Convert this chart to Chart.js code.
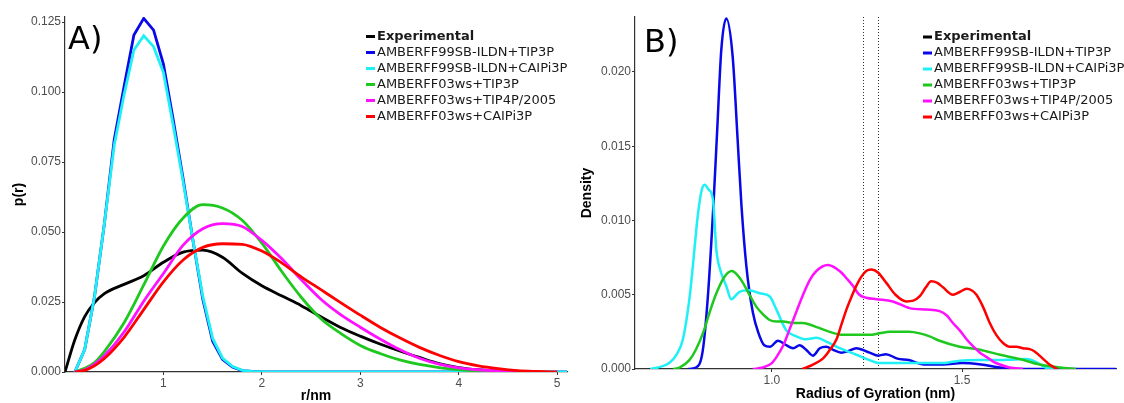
<!DOCTYPE html>
<html>
<head>
<meta charset="utf-8">
<script src="https://cdn.jsdelivr.net/npm/chart.js@4/dist/chart.umd.min.js"></script>
<style>
  html, body { margin: 0; padding: 0; background: #fff; }
  #wrap { position: relative; width: 1124px; height: 403px; }
  #cA { position: absolute; left: 0; top: 0; }
  #cB { position: absolute; left: 570px; top: 0; }
</style>
</head>
<body>
<div id="wrap">
  <canvas id="cA" width="570" height="403"></canvas>
  <canvas id="cB" width="554" height="403"></canvas>
</div>
<script>
/* series */
var seriesNames = ["Experimental", "AMBERFF99SB-ILDN+TIP3P", "AMBERFF99SB-ILDN+CAIPi3P",
  "AMBERFF03ws+TIP3P", "AMBERFF03ws+TIP4P/2005", "AMBERFF03ws+CAIPi3P"];
var seriesColors = ["#000000", "#0808e8", "#1ef0f5", "#1ec81e", "#ff10ff", "#ff0000"];

/* panel A : p(r) */
var rFine = [0.1, 0.2, 0.3, 0.4, 0.5, 0.6, 0.7, 0.8, 0.9, 1.0, 1.1, 1.2, 1.3, 1.4, 1.5, 1.6, 1.7, 1.8, 1.9, 2.0, 2.5, 3.0, 3.5, 4.0, 4.5, 5.1];
var pBlue = [0, 0.008, 0.027, 0.053, 0.083, 0.102, 0.1204, 0.1263, 0.1221, 0.110, 0.090, 0.069, 0.047, 0.026, 0.011, 0.0045, 0.0018, 0.0005, 0.0002, 0.0001, 0, 0, 0, 0, 0, 0];
var pCyan = [0, 0.008, 0.027, 0.053, 0.081, 0.099, 0.115, 0.1201, 0.1162, 0.107, 0.088, 0.068, 0.047, 0.027, 0.012, 0.005, 0.002, 0.0006, 0.0002, 0.0001, 0, 0, 0, 0, 0, 0];

var rBroad = [0, 0.1, 0.2, 0.3, 0.4, 0.6, 0.8, 1.0, 1.2, 1.4, 1.6, 1.8, 2.0, 2.2, 2.4, 2.6, 2.8, 3.0, 3.2, 3.4, 3.6, 3.8, 4.0, 4.2, 4.4, 4.6, 4.8, 5.0];
var pExp = [0, 0.0115, 0.0198, 0.0248, 0.0280, 0.0313, 0.0344, 0.0392, 0.0428, 0.0435, 0.0410, 0.0353, 0.0308, 0.0272, 0.0237, 0.0197, 0.0159, 0.0128, 0.0100, 0.0075, 0.0052, 0.0030, 0.0016, 0.0008, 0.0004, 0.0001, null, null];
var pGreen = [null, 0, 0.0013, 0.0034, 0.0073, 0.0176, 0.0311, 0.0450, 0.0550, 0.0598, 0.0586, 0.0542, 0.0460, 0.0360, 0.0267, 0.0190, 0.0138, 0.0095, 0.0066, 0.0043, 0.0027, 0.0016, 0.0009, 0.0004, 0.0002, 0, null, null];
var pMagenta = [null, 0, 0.0008, 0.0028, 0.0058, 0.0143, 0.0253, 0.0352, 0.0453, 0.0512, 0.0530, 0.0520, 0.0470, 0.0405, 0.0330, 0.0260, 0.0205, 0.0160, 0.0118, 0.0080, 0.0049, 0.0028, 0.0015, 0.0008, 0.0004, 0.0001, 0, null];
var pRed = [null, 0, 0.0006, 0.0022, 0.0048, 0.0124, 0.0223, 0.0322, 0.0400, 0.0445, 0.0458, 0.0456, 0.0432, 0.0390, 0.0340, 0.0294, 0.0248, 0.0203, 0.0160, 0.0122, 0.0088, 0.0060, 0.0037, 0.0022, 0.0012, 0.0005, 0.0002, 0];
var rTicks = [1, 2, 3, 4, 5];
var pTicks = [0, 0.025, 0.05, 0.075, 0.1, 0.125];

/* panel B : radius of gyration density */
var gBlue = [0.78, 0.80, 0.818, 0.832, 0.847, 0.856, 0.867, 0.88, 0.897, 0.91, 0.92, 0.933, 0.95, 0.965, 0.98, 0.995, 1.016, 1.038, 1.056, 1.073, 1.09, 1.108, 1.126, 1.143, 1.16, 1.183, 1.20, 1.222, 1.257, 1.28, 1.30, 1.33, 1.36, 1.40, 1.45, 1.50, 1.55, 1.60, 1.65, 1.905];
var dBlue = [0, 0.0001, 0.0012, 0.005, 0.0114, 0.016, 0.0215, 0.0236, 0.021, 0.0154, 0.011, 0.0069, 0.0038, 0.0024, 0.0016, 0.0015, 0.0019, 0.0016, 0.0014, 0.0016, 0.0013, 0.0009, 0.0014, 0.0015, 0.0013, 0.0011, 0.0012, 0.0014, 0.0011, 0.0009, 0.0010, 0.0007, 0.0006, 0.0003, 0.0003, 0.0004, 0.0003, 0.0001, 0, 0];
var gCyan = [0.68, 0.70, 0.73, 0.75, 0.766, 0.783, 0.792, 0.805, 0.815, 0.823, 0.833, 0.845, 0.854, 0.865, 0.88, 0.893, 0.915, 0.941, 0.968, 0.994, 1.012, 1.038, 1.064, 1.09, 1.117, 1.143, 1.178, 1.222, 1.257, 1.28, 1.32, 1.36, 1.40, 1.45, 1.494, 1.54, 1.58, 1.62, 1.67, 1.70, 1.72, 1.75];
var dCyan = [0, 0.0001, 0.0004, 0.001, 0.002, 0.0047, 0.0069, 0.0103, 0.0120, 0.0124, 0.0121, 0.0114, 0.008, 0.0066, 0.0056, 0.0047, 0.0052, 0.0053, 0.0051, 0.0049, 0.0040, 0.0026, 0.0022, 0.0020, 0.0021, 0.00185, 0.0014, 0.00096, 0.0006, 0.0004, 0.0004, 0.0004, 0.0004, 0.0004, 0.00056, 0.0006, 0.0006, 0.00062, 0.00067, 0.0004, 0.0001, 0];
var gGreen = [0.74, 0.757, 0.783, 0.80, 0.82, 0.836, 0.854, 0.875, 0.895, 0.91, 0.924, 0.941, 0.959, 0.976, 0.994, 1.012, 1.03, 1.055, 1.08, 1.099, 1.12, 1.152, 1.187, 1.222, 1.257, 1.283, 1.31, 1.336, 1.36, 1.389, 1.415, 1.441, 1.494, 1.547, 1.60, 1.652, 1.704, 1.757, 1.80];
var dGreen = [0, 0.0001, 0.0006, 0.0013, 0.0025, 0.0038, 0.0051, 0.0062, 0.0066, 0.0063, 0.0058, 0.005, 0.0042, 0.0037, 0.0033, 0.0032, 0.0032, 0.0031, 0.0031, 0.0030, 0.0028, 0.0025, 0.0023, 0.0023, 0.0023, 0.0024, 0.0025, 0.0025, 0.0025, 0.0024, 0.0022, 0.0019, 0.0015, 0.0013, 0.00096, 0.00067, 0.0003, 0.0001, 0];
var gMagenta = [0.95, 0.976, 1.00, 1.012, 1.03, 1.047, 1.065, 1.082, 1.10, 1.117, 1.147, 1.178, 1.20, 1.213, 1.23, 1.248, 1.275, 1.318, 1.362, 1.406, 1.441, 1.46, 1.476, 1.494, 1.512, 1.53, 1.547, 1.565, 1.582, 1.60, 1.625, 1.66];
var dMagenta = [0, 0.0001, 0.0004, 0.0008, 0.0016, 0.0027, 0.0039, 0.005, 0.006, 0.0066, 0.0070, 0.0066, 0.0060, 0.0056, 0.0050, 0.0048, 0.0047, 0.00455, 0.0041, 0.0040, 0.0039, 0.0036, 0.0031, 0.0026, 0.0020, 0.0015, 0.0011, 0.0008, 0.0005, 0.0003, 0.0001, 0];
var gRed = [1.08, 1.108, 1.134, 1.15, 1.17, 1.183, 1.196, 1.21, 1.222, 1.235, 1.248, 1.262, 1.279, 1.301, 1.325, 1.354, 1.372, 1.389, 1.405, 1.419, 1.435, 1.45, 1.476, 1.495, 1.512, 1.525, 1.538, 1.555, 1.573, 1.59, 1.608, 1.625, 1.643, 1.66, 1.678, 1.69, 1.704, 1.717, 1.73, 1.75];
var dRed = [0, 0.0003, 0.0007, 0.0012, 0.002, 0.003, 0.004, 0.0049, 0.0056, 0.0062, 0.0066, 0.0067, 0.0065, 0.0058, 0.0050, 0.00455, 0.0046, 0.0049, 0.0055, 0.0059, 0.0058, 0.0055, 0.0050, 0.0052, 0.0054, 0.0053, 0.0050, 0.0042, 0.0031, 0.0023, 0.00175, 0.0015, 0.0015, 0.0014, 0.00134, 0.0012, 0.0009, 0.0006, 0.0003, 0];
var gTicks = [1.0, 1.5];
var dTicks = [0, 0.005, 0.01, 0.015, 0.02];
var expLines = [1.24, 1.28];   // dotted vertical lines

function pts(xs, ys) {
  var out = [];
  for (var i = 0; i < xs.length; i++) {
    if (ys[i] !== null) out.push({x: xs[i], y: ys[i]});
  }
  return out;
}

Chart.defaults.font.family = "'Liberation Sans', Arial, sans-serif";
Chart.defaults.color = "#4d4d4d";

/* legend drawn inside the plot */
var insideLegend = {
  id: 'insideLegend',
  afterDatasetsDraw: function(chart, args, opts) {
    var ctx = chart.ctx;
    ctx.save();
    chart.data.datasets.forEach(function(ds, i) {
      var y = opts.y + i * 16;
      ctx.strokeStyle = ds.borderColor;
      ctx.lineWidth = 3;
      ctx.beginPath();
      ctx.moveTo(opts.x, y);
      ctx.lineTo(opts.x + 9, y);
      ctx.stroke();
      ctx.fillStyle = "#1a1a1a";
      ctx.font = (i == 0 ? "bold " : "") + "13px 'DejaVu Sans'";
      ctx.textBaseline = "middle";
      ctx.textAlign = "left";
      ctx.fillText(ds.label, opts.x + 11, y);
    });
    ctx.restore();
  }
};

var panelLabel = {
  id: 'panelLabel',
  afterDraw: function(chart, args, opts) {
    var ctx = chart.ctx;
    ctx.save();
    ctx.fillStyle = "#000";
    ctx.font = "32px 'DejaVu Sans'";
    ctx.textBaseline = "alphabetic";
    ctx.fillText(opts.text, opts.x, opts.y);
    ctx.restore();
  }
};

var vLines = {
  id: 'vLines',
  beforeDatasetsDraw: function(chart, args, opts) {
    if (!opts.values) return;
    var ctx = chart.ctx, xs = chart.scales.x, a = chart.chartArea;
    ctx.save();
    ctx.strokeStyle = "#333";
    ctx.lineWidth = 1;
    ctx.setLineDash([1, 2]);
    opts.values.forEach(function(v) {
      var px = Math.round(xs.getPixelForValue(v)) + 0.5;
      ctx.beginPath();
      ctx.moveTo(px, a.top);
      ctx.lineTo(px, a.bottom);
      ctx.stroke();
    });
    ctx.restore();
  }
};

function makeSets(list, width) {
  return list.map(function(d, i) {
    return {
      label: seriesNames[i],
      data: d.data,
      borderColor: seriesColors[i],
      backgroundColor: seriesColors[i],
      borderWidth: width,
      pointRadius: 0,
      fill: false,
      tension: d.sharp ? 0 : 0.4,
      cubicInterpolationMode: d.sharp ? 'default' : 'monotone',
      order: 10 - i
    };
  });
}

function axisX(min, max, ticks, title, fmt, h, titlePad) {
  return {
    type: 'linear', min: min, max: max,
    afterBuildTicks: function(s) { s.ticks = ticks.map(function(v) { return {value: v}; }); },
    afterFit: function(s) { s.height = h; },
    border: {display: true, color: '#333', width: 1.2},
    grid: {drawOnChartArea: false, drawTicks: true, tickLength: 3, color: '#333'},
    ticks: {font: {size: 12}, color: '#4d4d4d', padding: 1, maxRotation: 0, callback: fmt},
    title: {display: true, text: title, color: '#000', font: {size: 14, weight: 'bold', lineHeight: 1}, padding: {top: 0, bottom: titlePad}}
  };
}
function axisY(max, ticks, title, titlePad) {
  return {
    type: 'linear', min: 0, max: max,
    afterBuildTicks: function(s) { s.ticks = ticks.map(function(v) { return {value: v}; }); },
    afterFit: function(s) { s.width = 65; },
    border: {display: true, color: '#333', width: 1.2},
    grid: {drawOnChartArea: false, drawTicks: true, tickLength: 3, color: '#333'},
    ticks: {font: {size: 12}, color: '#4d4d4d', padding: 1, callback: function(v) { return v.toFixed(3); }},
    title: {display: true, text: title, color: '#000', font: {size: 14, weight: 'bold', lineHeight: 1}, padding: {top: titlePad, bottom: 0}}
  };
}

new Chart("cA", {
  type: "line",
  data: {
    datasets: makeSets([
      {data: pts(rBroad, pExp)},
      {data: pts(rFine, pBlue), sharp: true},
      {data: pts(rFine, pCyan), sharp: true},
      {data: pts(rBroad, pGreen)},
      {data: pts(rBroad, pMagenta)},
      {data: pts(rBroad, pRed)}
    ], 2.8)
  },
  options: {
    responsive: false,
    animation: false,
    layout: {padding: {top: 17, right: 3, bottom: 0, left: 0}},
    plugins: {
      legend: {display: false},
      tooltip: {enabled: false},
      insideLegend: {x: 366, y: 36.5},
      panelLabel: {text: "A)", x: 68, y: 48.5}
    },
    scales: {
      x: axisX(0, 5.1, rTicks, "r/nm", function(v) { return String(v); }, 31, 0),
      y: axisY(0.1268, pTicks, "p(r)", 12)
    }
  },
  plugins: [insideLegend, panelLabel]
});

new Chart("cB", {
  type: "line",
  data: {
    datasets: makeSets([
      {data: []},
      {data: pts(gBlue, dBlue)},
      {data: pts(gCyan, dCyan)},
      {data: pts(gGreen, dGreen)},
      {data: pts(gMagenta, dMagenta)},
      {data: pts(gRed, dRed)}
    ], 2.5)
  },
  options: {
    responsive: false,
    animation: false,
    layout: {padding: {top: 17, right: 8, bottom: 0, left: 0}},
    plugins: {
      legend: {display: false},
      tooltip: {enabled: false},
      insideLegend: {x: 353, y: 37},
      panelLabel: {text: "B)", x: 74, y: 51.7},
      vLines: {values: expLines}
    },
    scales: {
      x: axisX(0.64, 1.905, gTicks, "Radius of Gyration (nm)", function(v) { return v.toFixed(1); }, 34, 1.5),
      y: axisY(0.0237, dTicks, "Density", 10)
    }
  },
  plugins: [insideLegend, panelLabel, vLines]
});
</script>
</body>
</html>
